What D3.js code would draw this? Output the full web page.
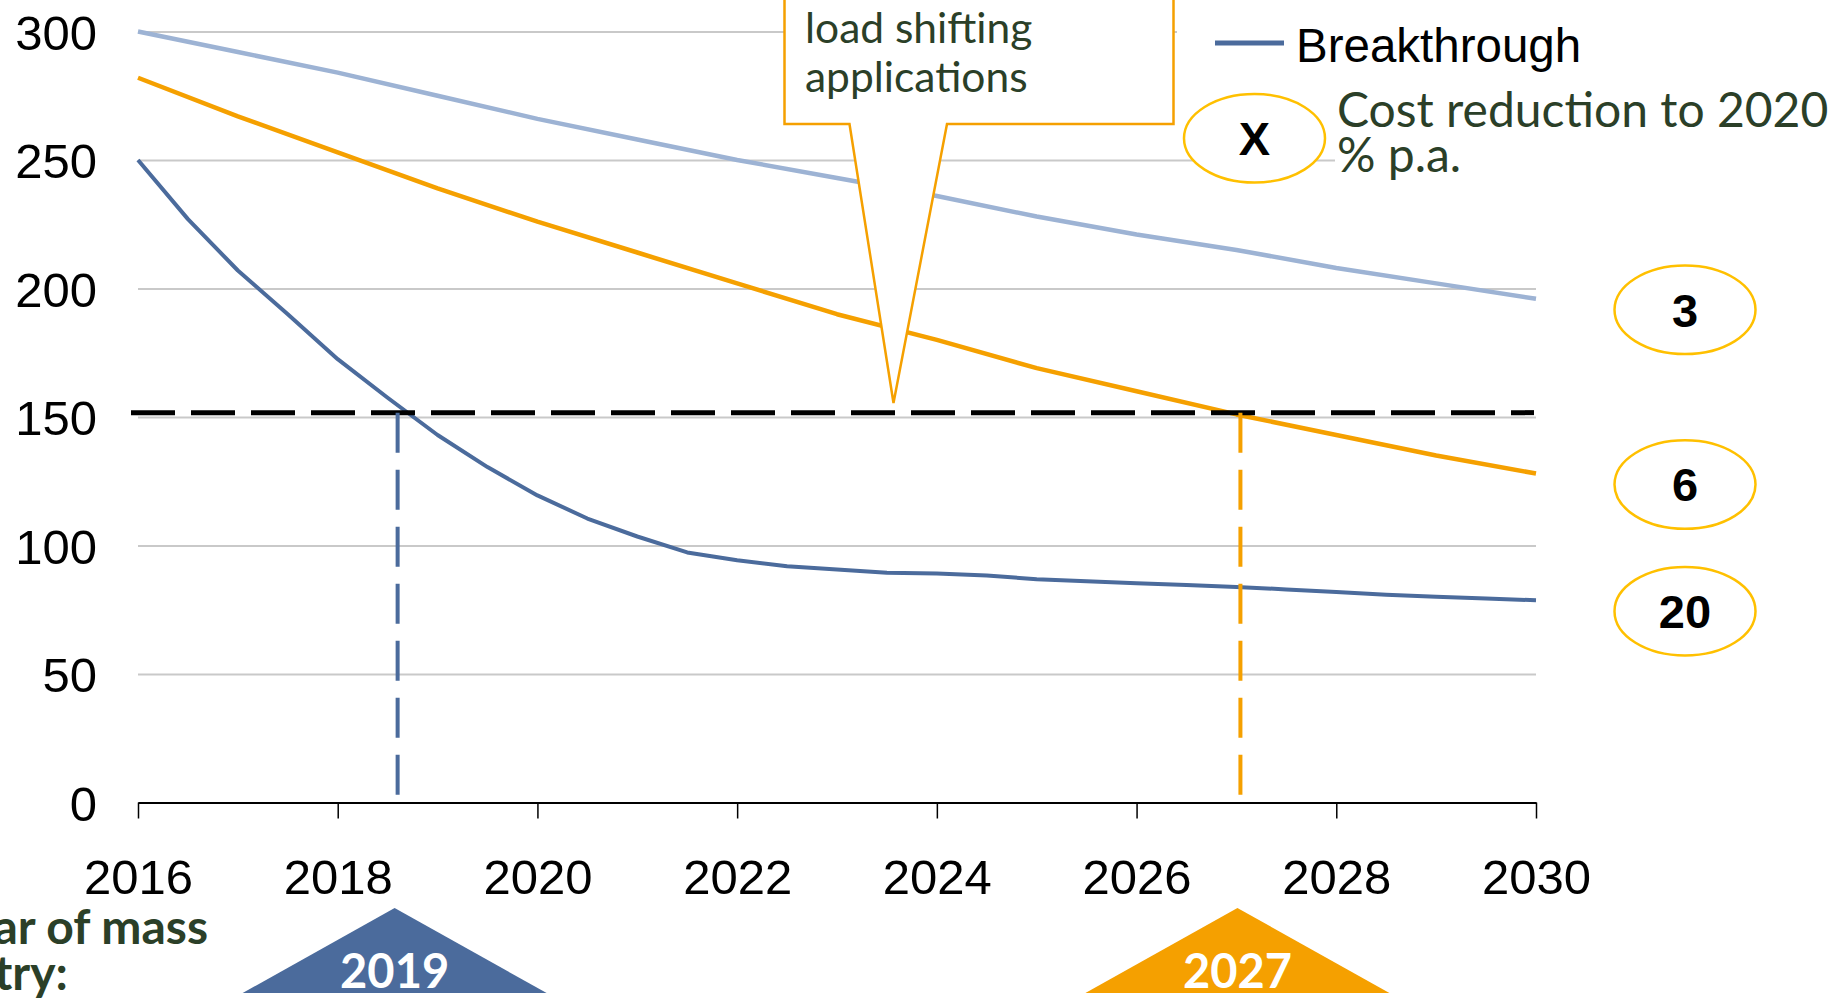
<!DOCTYPE html>
<html>
<head>
<meta charset="utf-8">
<script src="https://cdn.jsdelivr.net/npm/d3@7"></script>
<style>
    html, body { margin: 0; padding: 0; background: #fff; }
    svg { display: block; }
</style>
</head>
<body>
<div id="chart"></div>
<script>
// data
const years = [2016, 2017, 2018, 2019, 2020, 2021, 2022, 2023, 2024, 2025, 2026, 2027, 2028, 2029, 2030];
const cost3 = [300, 292, 284, 275, 266, 258, 250, 243, 236, 228, 221, 215, 208, 202, 196];
const cost6 = [282, 267, 253, 239, 226, 214, 202, 190, 180, 169, 160, 151, 143, 135, 128];
const halfYears = [2016, 2016.5, 2017, 2017.5, 2018, 2018.5, 2019, 2019.5, 2020, 2020.5, 2021, 2021.5,
    2022, 2022.5, 2023, 2023.5, 2024, 2024.5, 2025, 2025.5, 2026, 2026.5, 2027, 2027.5, 2028, 2028.5,
    2029, 2029.5, 2030];
const cost20 = [250, 227, 207, 190, 172.5, 157.5, 143, 130.5, 119.5, 110.5, 103.5, 97.3,
    94.3, 91.9, 90.7, 89.4, 89.1, 88.3, 86.9, 86.1, 85.3, 84.6, 83.9, 82.9, 81.9, 80.8,
    80.1, 79.4, 78.7];
const rates = ['3', '6', '20'];
const yTicks = [0, 50, 100, 150, 200, 250, 300];
const xTicks = [2016, 2018, 2020, 2022, 2024, 2026, 2028, 2030];
const threshold = 151.7;
const entryYears = [2018.6, 2027.04];
const entryLabels = ['2019', '2027'];
const calloutLines = ['load shifting', 'applications'];
const legendName = 'Breakthrough';
const legendNote = ['Cost reduction to 2020', '% p.a.'];

const width = 1832, height = 1000;
const darkBlue = '#4b6b9c', lightBlue = '#9db3d4', orange = '#f5a000', gold = '#ffc000', green = '#2b3f28';
const sans = '"Liberation Sans", Arial, sans-serif';
const lato = 'Lato, "Noto Sans", sans-serif';

const svg = d3.select('#chart').append('svg')
    .attr('width', width)
    .attr('height', height);

const x = d3.scaleLinear().domain([2016, 2030]).range([138, 1536]);
const y = d3.scaleLinear().domain([0, 300]).range([802.5, 31.5]);

// gridlines + y labels
const yAxis = svg.append('g')
    .attr('transform', `translate(${x(2016)},0)`)
    .call(d3.axisLeft(y).tickValues(yTicks).tickSize(-(x(2030) - x(2016))).tickPadding(41));
yAxis.select('.domain').remove();
yAxis.selectAll('line').attr('stroke', '#c9c9c9').attr('stroke-width', 2);
yAxis.selectAll('text')
    .style('font', `49px ${sans}`)
    .attr('fill', '#000')
    .attr('dy', '0.36em');

// x axis
const xAxis = svg.append('g')
    .attr('transform', `translate(0,${y(0)})`)
    .call(d3.axisBottom(x).tickValues(xTicks).tickFormat(d3.format('d')).tickSize(16).tickSizeOuter(0).tickPadding(41));
xAxis.select('.domain').attr('stroke', '#000').attr('stroke-width', 2);
xAxis.selectAll('line').attr('stroke', '#000').attr('stroke-width', 1.5);
xAxis.selectAll('text')
    .style('font', `49px ${sans}`)
    .attr('fill', '#000');

// series lines
const line = d3.line()
    .x(function (d) { return x(d[0]); })
    .y(function (d) { return y(d[1]); });

const series = [
    {name: '3', xs: years, ys: cost3, color: lightBlue, w: 4.5},
    {name: '6', xs: years, ys: cost6, color: orange, w: 4.5},
    {name: legendName, xs: halfYears, ys: cost20, color: darkBlue, w: 4}
];

svg.append('g')
    .selectAll('path')
    .data(series)
    .enter()
    .append('path')
    .attr('d', function (d) { return line(d.xs.map(function (v, i) { return [v, d.ys[i]]; })); })
    .attr('fill', 'none')
    .attr('stroke', function (d) { return d.color; })
    .attr('stroke-width', function (d) { return d.w; })
    .attr('stroke-linejoin', 'round');

// dashed threshold and entry markers
svg.append('line')
    .attr('x1', x(2016) - 7).attr('x2', x(2030) - 2)
    .attr('y1', y(threshold)).attr('y2', y(threshold))
    .attr('stroke', '#000')
    .attr('stroke-width', 5)
    .attr('stroke-dasharray', '44,16');

svg.append('g')
    .selectAll('line')
    .data(entryYears)
    .enter()
    .append('line')
    .attr('x1', function (d) { return x(d); })
    .attr('x2', function (d) { return x(d); })
    .attr('y1', y(threshold))
    .attr('y2', y(0) - 3)
    .attr('stroke', function (d, i) { return i === 0 ? darkBlue : orange; })
    .attr('stroke-width', 4)
    .attr('stroke-dasharray', '40,17');

// callout box
const tipX = 893.5, tipY = 403;
svg.append('path')
    .attr('d', `M784.5,-10 L784.5,124 L849.5,124 L${tipX},${tipY} L947,124 L1173.5,124 L1173.5,-10`)
    .attr('fill', '#fff')
    .attr('stroke', orange)
    .attr('stroke-width', 2.5);

svg.append('g')
    .selectAll('text')
    .data(calloutLines)
    .enter()
    .append('text')
    .attr('x', 805)
    .attr('y', function (d, i) { return 42.5 + i * 49.5; })
    .style('font', `42.5px ${lato}`)
    .attr('fill', green)
    .text(function (d) { return d; });

// legend
svg.append('rect')
    .attr('x', 1177).attr('y', 0).attr('width', width - 1177).attr('height', 80)
    .attr('fill', '#fff');
svg.append('line')
    .attr('x1', 1215).attr('x2', 1284)
    .attr('y1', 43).attr('y2', 43)
    .attr('stroke', darkBlue)
    .attr('stroke-width', 5);
svg.append('text')
    .attr('x', 1296).attr('y', 62)
    .style('font', `47.5px ${sans}`)
    .attr('fill', '#000')
    .text(legendName);

svg.append('rect')
    .attr('x', 1335).attr('y', 88).attr('width', width - 1335).attr('height', 110)
    .attr('fill', '#fff');
svg.append('ellipse')
    .attr('cx', 1254.5).attr('cy', 138.3).attr('rx', 70.5).attr('ry', 44.3)
    .attr('fill', '#fff')
    .attr('stroke', gold)
    .attr('stroke-width', 2.5);
svg.append('text')
    .attr('x', 1254.5).attr('y', 138.3)
    .attr('dy', '0.36em')
    .attr('text-anchor', 'middle')
    .style('font', `bold 47px ${sans}`)
    .text('X');
svg.append('g')
    .selectAll('text')
    .data(legendNote)
    .enter()
    .append('text')
    .attr('x', 1337)
    .attr('y', function (d, i) { return 127 + i * 45; })
    .style('font', `48px ${lato}`)
    .attr('fill', green)
    .text(function (d) { return d; });

// rate bubbles next to line ends
const bubble = svg.append('g')
    .selectAll('g')
    .data(series)
    .enter()
    .append('g')
    .attr('transform', function (d) { return `translate(1685,${y(d.ys[d.ys.length - 1]) + 11})`; });
bubble.append('ellipse')
    .attr('rx', 70.5).attr('ry', 44.3)
    .attr('fill', '#fff')
    .attr('stroke', gold)
    .attr('stroke-width', 2.5);
bubble.append('text')
    .attr('dy', '0.36em')
    .attr('text-anchor', 'middle')
    .style('font', `bold 47px ${sans}`)
    .text(function (d, i) { return rates[i]; });

// year of mass entry
const entry = svg.append('g')
    .selectAll('g')
    .data(entryYears)
    .enter()
    .append('g')
    .attr('transform', function (d) { return `translate(${x(d) - 3},0)`; });
entry.append('path')
    .attr('d', 'M0,908 L152,993 L-152,993 Z')
    .attr('fill', function (d, i) { return i === 0 ? darkBlue : orange; });
entry.append('text')
    .attr('y', 988)
    .attr('text-anchor', 'middle')
    .style('font', `bold 47px ${lato}`)
    .attr('fill', '#fff')
    .text(function (d, i) { return entryLabels[i]; });

const massTitle = svg.append('text')
    .style('font', `bold 48px ${lato}`)
    .attr('fill', green);
const first = massTitle.append('tspan').attr('y', 944).text('Year of mass');
const startX = 208 - first.node().getComputedTextLength();
first.attr('x', startX);
massTitle.append('tspan').attr('x', startX).attr('y', 990).text('entry:');
</script>
</body>
</html>
